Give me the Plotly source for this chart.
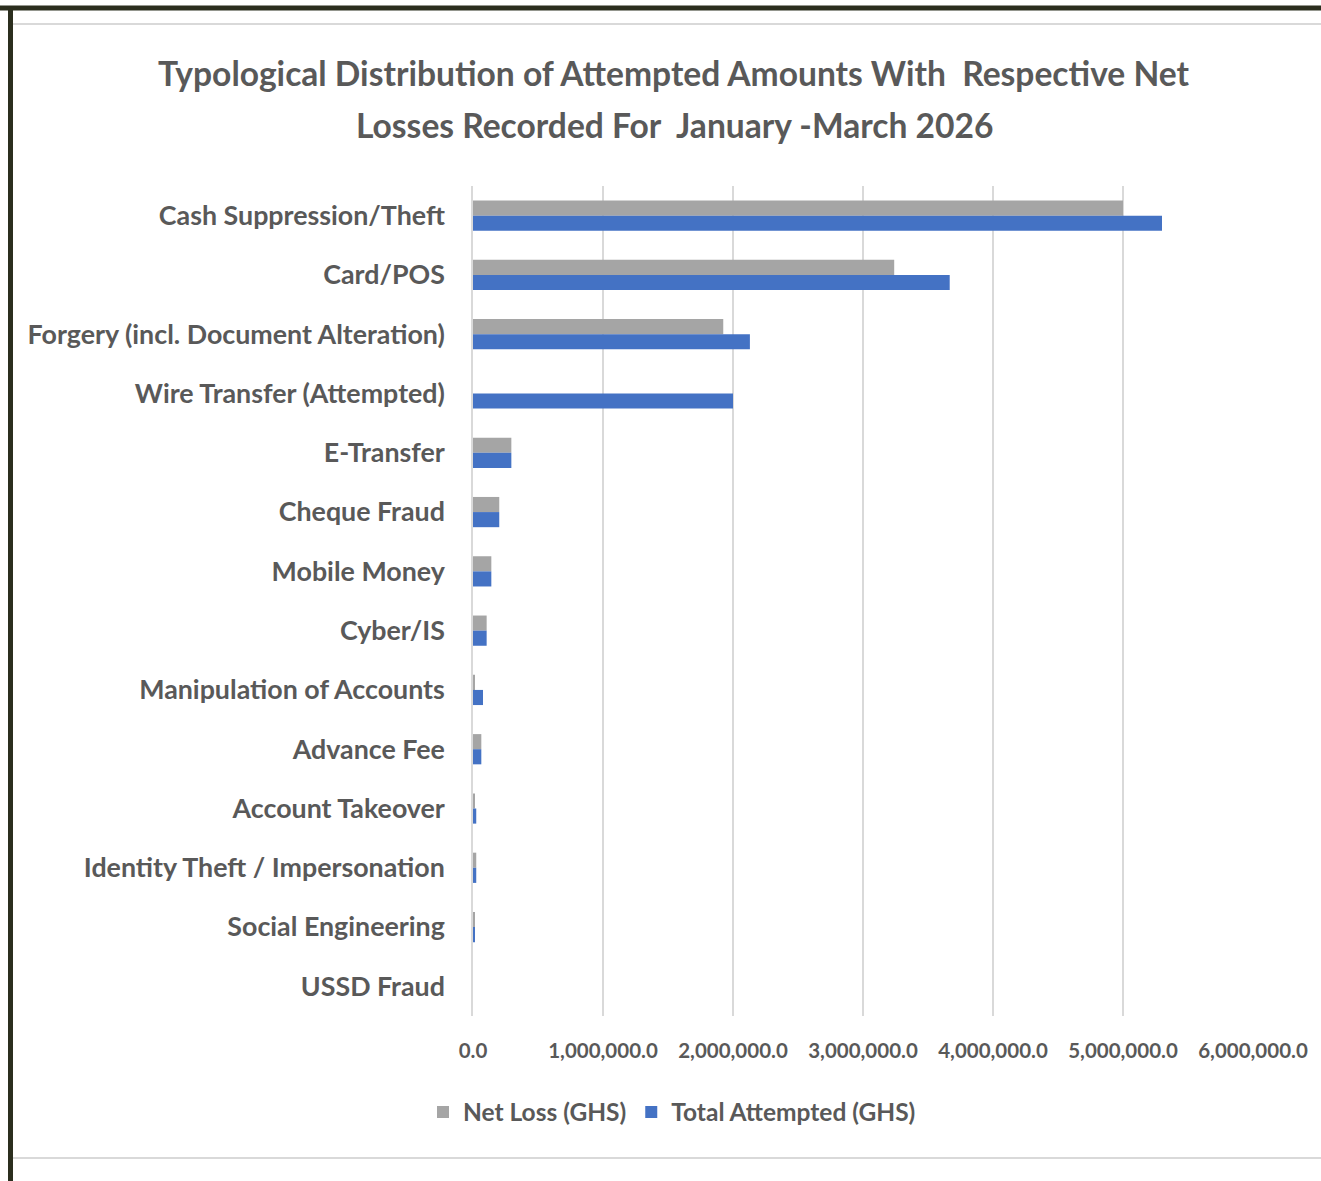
import plotly.graph_objects as go

# Fraud typologies, top to bottom
categories = [
    "Cash Suppression/Theft",
    "Card/POS",
    "Forgery (incl. Document Alteration)",
    "Wire Transfer (Attempted)",
    "E-Transfer",
    "Cheque Fraud",
    "Mobile Money",
    "Cyber/IS",
    "Manipulation of Accounts",
    "Advance Fee",
    "Account Takeover",
    "Identity Theft / Impersonation",
    "Social Engineering",
    "USSD Fraud",
]

# Amounts in GHS
net_loss = [
    5000000, 3240000, 1925000, 0, 295000, 202000, 141000, 105000,
    15000, 64000, 10000, 25000, 10000, 0,
]
total_attempted = [
    5300000, 3667000, 2130000, 2000000, 295000, 202000, 141000, 105000,
    77000, 64000, 25000, 25000, 8000, 0,
]

tick_values = [0, 1000000, 2000000, 3000000, 4000000, 5000000, 6000000]
tick_labels = ["0.0", "1,000,000.0", "2,000,000.0", "3,000,000.0",
               "4,000,000.0", "5,000,000.0", "6,000,000.0"]

title_lines = [
    "Typological Distribution of Attempted Amounts With  Respective Net",
    "Losses Recorded For  January -March 2026",
]

FONT = "Lato"
TEXT = "#595959"
W, H = 1321, 1181
L, R, T, B = 473, 68, 186, 165

fig = go.Figure()
fig.add_trace(go.Bar(
    y=categories, x=net_loss, orientation="h", name="Net Loss (GHS)",
    marker=dict(color="#a5a5a5", line=dict(width=0)),
))
fig.add_trace(go.Bar(
    y=categories, x=total_attempted, orientation="h", name="Total Attempted (GHS)",
    marker=dict(color="#4472c4", line=dict(width=0)),
))

plot_h = H - T - B
for i, line in enumerate(title_lines):
    y_px = [73, 125][i]
    fig.add_annotation(
        text=line, xref="paper", yref="paper",
        x=(674 - L) / (W - L - R), y=(H - B - y_px) / plot_h,
        xanchor="center", yanchor="middle", showarrow=False,
        font=dict(family=FONT, size=33.6, color=TEXT, weight=700),
    )

# Frame: dark rules along the top and left edges, light rules inside
dark = "#2b2e1e"
light = "#d9d9d9"
fig.add_shape(type="line", xref="paper", yref="paper", x0=-10, x1=10,
              y0=(H - B - 8) / plot_h, y1=(H - B - 8) / plot_h,
              line=dict(color=dark, width=5), layer="above")
fig.add_shape(type="line", xref="paper", yref="paper",
              x0=(10.5 - L) / (W - L - R), x1=(10.5 - L) / (W - L - R),
              y0=-10, y1=(H - B - 6) / plot_h,
              line=dict(color=dark, width=5), layer="above")
for y_px in (24, 1158):
    fig.add_shape(type="line", xref="paper", yref="paper",
                  x0=(13 - L) / (W - L - R), x1=10,
                  y0=(H - B - y_px) / plot_h, y1=(H - B - y_px) / plot_h,
                  line=dict(color=light, width=2))

fig.update_layout(
    width=W, height=H,
    margin=dict(l=L, r=R, t=T, b=B, pad=0),
    paper_bgcolor="white", plot_bgcolor="white",
    barmode="group", bargap=0.49, bargroupgap=0,
    font=dict(family=FONT, color=TEXT),
    showlegend=True,
    legend=dict(
        orientation="h", xref="container", yref="container",
        x=672 / W, y=1 - 1112 / H, xanchor="center", yanchor="middle",
        font=dict(family=FONT, size=24.5, color=TEXT, weight=700),
        itemwidth=30, traceorder="normal",
    ),
    xaxis=dict(
        range=[0, 6000000], tickvals=tick_values, ticktext=tick_labels,
        showgrid=True, gridcolor=light, gridwidth=1.5,
        zeroline=False, showline=False, ticks="",
        ticklabelstandoff=20,
        tickfont=dict(family=FONT, size=20.5, color=TEXT, weight=700),
    ),
    yaxis=dict(
        categoryorder="array", categoryarray=categories, autorange="reversed",
        showgrid=False, zeroline=False, ticks="",
        showline=True, linecolor=light, linewidth=1.5,
        ticklabelstandoff=21,
        tickfont=dict(family=FONT, size=26.8, color=TEXT, weight=700),
    ),
)

fig.write_html("out.html")
